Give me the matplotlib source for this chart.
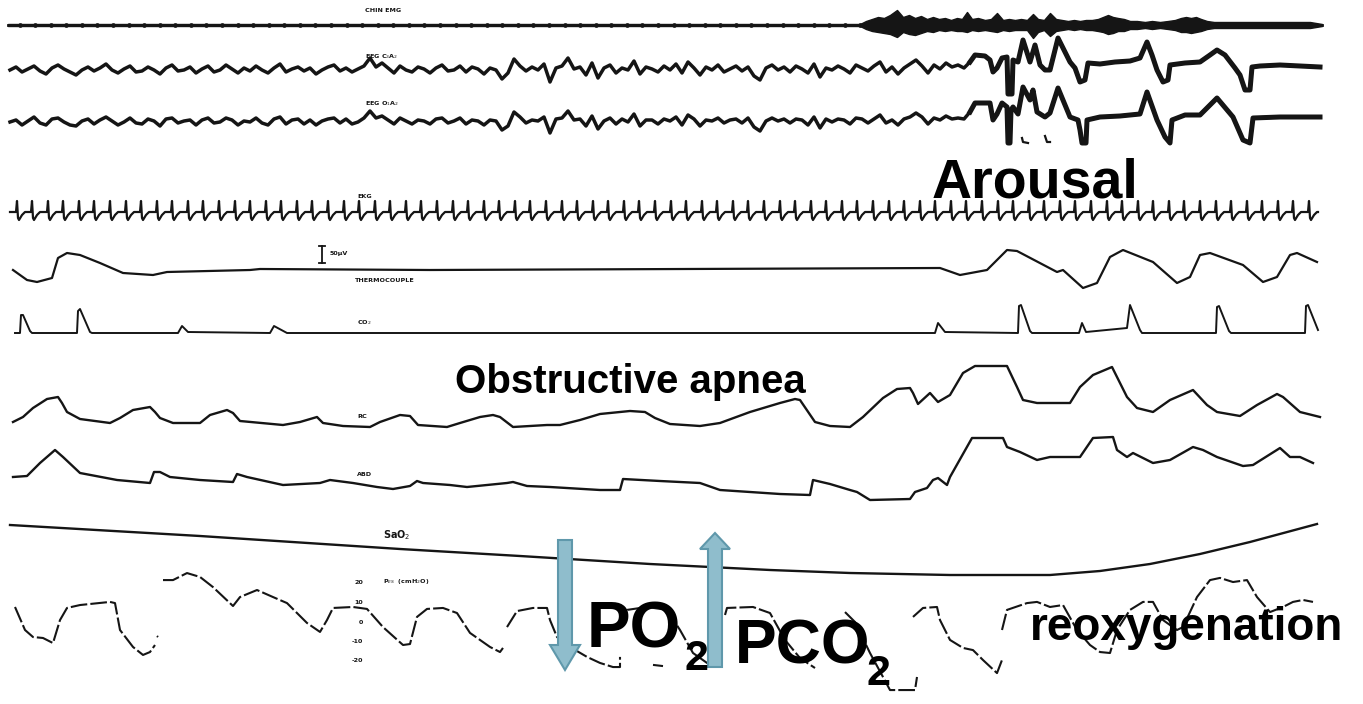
import numpy as np
import matplotlib
matplotlib.use("Agg")
import matplotlib.pyplot as plt
from matplotlib.patches import FancyArrow

# ---------------- data (x = recording time in strip columns, values = deflection, up positive) -------------
emg_x = [8, 12, 860, 866, 872, 878, 884, 890, 897, 903, 909, 915, 921, 927, 933, 939, 945, 951, 957, 962,
         967, 972, 978, 985, 991, 997, 1003, 1009, 1015, 1021, 1027, 1033, 1038, 1044, 1050, 1056, 1062,
         1068, 1074, 1080, 1086, 1092, 1098, 1103, 1108, 1113, 1118, 1124, 1130, 1137, 1145, 1152, 1160,
         1168, 1175, 1181, 1186, 1191, 1196, 1201, 1207, 1214, 1222, 1230, 1240, 1250, 1260, 1270, 1280,
         1290, 1300, 1310, 1316, 1322]
emg_up = [1, 1, 1, 4, 6, 8, 7, 10, 15, 8, 10, 7, 9, 6, 8, 6, 7, 5, 7, 6,
          13, 6, 7, 5, 6, 12, 5, 6, 5, 6, 5, 11, 6, 5, 12, 6, 5,
          4, 5, 4, 5, 5, 6, 8, 10, 8, 7, 6, 4, 4, 3, 4, 3,
          4, 5, 7, 8, 7, 8, 6, 4, 3, 3, 3, 3, 3, 3, 3, 3,
          3, 3, 3, 2, 1]
emg_down = [1, 1, 1, 4, 6, 7, 8, 9, 12, 7, 9, 10, 8, 6, 7, 5, 6, 5, 6, 6,
            7, 5, 6, 5, 6, 7, 5, 6, 5, 5, 5, 13, 7, 5, 11, 6, 5,
            4, 5, 4, 5, 5, 6, 7, 9, 8, 6, 6, 4, 4, 3, 4, 3,
            4, 5, 7, 7, 8, 7, 6, 4, 3, 3, 3, 3, 3, 3, 3, 3,
            3, 3, 3, 2, 1]

eeg_c3_left = [0, 3, -2, 1, 4, -1, -4, 2, 5, 1,
               -2, -5, 0, 3, -1, 2, 6, 0, -3, 1,
               4, -2, -1, 3, 0, -4, 2, 5, -1, 0,
               3, -3, 1, 4, -2, 0, 5, 1, -3, 2,
               -1, 4, 0, -3, 2, 6, -2, 1, 3, -1,
               2, -4, 0, 3, 5, -1, 2, -2, 1, 4,
               12, 3, 7, 2, -3, 4, 0, -2, 3, 1,
               -3, 2, 5, -1, 0, 4, -2, 3, 1, -4,
               2, 0, -9, -3, 11, 4, -1, 3, 0, 6,
               -12, 2, 4, 12, 1, 3, -5, 7, -8, 2,
               5, -3, 2, 0, 9, -4, 3, 1, -2, 4,
               0, 6, -3, 8, 2, -5, 3, 0, 5, -2,
               1, 4, -1, 3, -6, -10, 2, 5, 0, 3,
               -2, 4, 1, -3, 6, -7, 2, 0, 4, 1,
               -3, 5, 2, -1, 4, 8, -2, 3, -4, 2,
               6, 10, 4, -3, 5, 1, 7, 3, 5, 2]
eeg_o1_left = [0, 2, -3, 1, 5, -1, -3, 3, 4, 0,
               -3, -4, 1, 3, -2, 2, 5, 1, -3, 0,
               4, -1, -2, 3, 1, -4, 3, 4, -1, 1,
               2, -3, 2, 4, -1, 0, 4, 2, -3, 1,
               0, 4, -1, -3, 3, 5, -2, 2, 3, -2,
               2, -3, 1, 3, 4, -1, 3, -2, 0, 4,
               11, 4, 6, 2, -2, 4, 1, -2, 2, 1,
               -2, 3, 4, -1, 1, 4, -2, 2, 1, -3,
               2, 1, -8, -4, 10, 5, -1, 2, 1, 5,
               -11, 3, 4, 11, 2, 3, -4, 6, -7, 1,
               4, -2, 3, 0, 8, -4, 2, 2, -2, 3,
               1, 5, -3, 7, 3, -4, 2, 1, 4, -1,
               2, 3, -1, 4, -5, -9, 1, 4, 1, 3,
               -1, 3, 2, -3, 5, -6, 3, 0, 3, 2,
               -2, 4, 3, -1, 3, 7, -1, 2, -3, 3,
               5, 9, 5, -2, 4, 2, 6, 3, 4, 3]
eeg_c3_right_x = [970, 975, 985, 990, 993, 997, 1002, 1007, 1008, 1012, 1013, 1018, 1023, 1030, 1035,
                  1040, 1045, 1050, 1058, 1070, 1075, 1080, 1085, 1088, 1100, 1115, 1130, 1140, 1147,
                  1152, 1157, 1163, 1168, 1170, 1185, 1200, 1210, 1217, 1225, 1235, 1240, 1245, 1250,
                  1252, 1260, 1280, 1300, 1320]
eeg_c3_right = [8, 15, 14, 10, -2, 2, 12, 13, -24, -24, 10, 8, 30, 8, 25,
                5, 0, 0, 32, 8, 2, -12, -10, 7, 6, 8, 9, 12, 28,
                15, 0, -12, -10, 5, 7, 8, 15, 20, 15, 2, -5, -20, -20,
                3, 4, 5, 4, 3]
eeg_o1_right_x = [970, 975, 990, 993, 997, 1002, 1007, 1008, 1010, 1011, 1013, 1018, 1023, 1030, 1033,
                  1037, 1045, 1050, 1058, 1070, 1078, 1080, 1082, 1086, 1087, 1100, 1120, 1140, 1147,
                  1157, 1165, 1170, 1172, 1185, 1200, 1217, 1233, 1243, 1250, 1253, 1280, 1300, 1320]
eeg_o1_right = [10, 19, 19, 2, 8, 19, 15, -21, -21, 12, 15, 8, 35, 22, 32,
                10, 5, 9, 34, 5, 2, -8, -21, -21, 2, 5, 6, 8, 30,
                2, -15, -21, 2, 7, 7, 24, 5, -18, -21, 4, 5, 5, 5]
eeg_o1_frag_x = [1022, 1023, 1028, np.nan, 1045, 1047, 1050]
eeg_o1_frag = [-16, -20, -21, np.nan, -14, -20, -20]

ekg_beats = [17, 32, 48, 63, 79, 94, 110, 126, 141, 157,
             172, 188, 203, 219, 235, 250, 266, 281, 297, 312,
             328, 344, 359, 375, 390, 406, 421, 437, 453, 468,
             484, 499, 515, 530, 546, 562, 577, 593, 608, 624,
             639, 655, 671, 686, 702, 717, 733, 748, 764, 780,
             795, 811, 826, 842, 857, 873, 889, 904, 920, 935,
             951, 966, 982, 998, 1013, 1029, 1044, 1060, 1075, 1091,
             1107, 1122, 1138, 1153, 1169, 1184, 1200, 1216, 1231, 1247,
             1262, 1278, 1293, 1309]
ekg_beat_dx = [-7, -1, 0, 1, 2, 5, 8]
ekg_beat_amp = [0, 0, 11, -6, -8, -3, 0]

thermo_x = [13, 27, 37, 52, 58, 67, 80, 100, 123, 153, 167, 250, 260, 430, 940, 960, 987, 1007, 1017,
            1057, 1063, 1083, 1097, 1110, 1123, 1153, 1177, 1190, 1200, 1210, 1243, 1263, 1277, 1290,
            1297, 1317]
thermo = [0, -10, -12, -8, 12, 17, 15, 7, -3, -5, -2, 0, 1, 0, 2, -5, 0, 20, 19,
          -2, 0, -18, -13, 13, 20, 8, -13, -7, 15, 17, 5, -12, -7, 15,
          17, 8]

co2_x = [15, 20, 21, 23, 30, 32, 77, 78, 80, 90, 92, 178, 182, 188, 270, 274, 287, 935, 938, 945,
         1018, 1019, 1021, 1030, 1032, 1079, 1082, 1086, 1127, 1130, 1140, 1142, 1216, 1217, 1219,
         1229, 1231, 1305, 1306, 1308, 1318]
co2 = [0, 0, 18, 18, 2, 0, 0, 22, 24, 1, 0, 0, 7, 1, 0, 7, 0, 0, 10, 1,
       0, 27, 28, 2, 0, 0, 10, 1, 5, 28, 3, 0, 0, 26, 27,
       2, 0, 0, 27, 28, 3]

rc_x = [13, 23, 33, 47, 58, 62, 67, 80, 110, 120, 133, 150, 155, 160, 173, 200, 210, 227, 233, 240,
        283, 300, 317, 323, 343, 370, 380, 400, 410, 418, 447, 460, 480, 493, 500, 513, 547, 560,
        580, 600, 630, 645, 655, 670, 700, 720, 750, 780, 795, 800, 815, 830, 850, 863, 883, 897,
        910, 913, 918, 930, 938, 950, 963, 975, 1007, 1017, 1023, 1037, 1070, 1080, 1093, 1112,
        1127, 1137, 1153, 1170, 1193, 1207, 1217, 1240, 1257, 1277, 1283, 1300, 1320]
rc = [-2, 3, 12, 21, 23, 17, 8, 1, -3, 2, 10, 13, 8, 2, -3, -3, 5, 10, 7, -1,
      -5, -2, 3, -3, -6, -7, -2, 5, 4, -5, -7, -3, 3, 5, 3, -7, -5, -5,
      0, 6, 9, 8, 2, -4, -6, -3, 8, 17, 21, 20, -2, -6, -7, 3, 22, 31,
      32, 27, 16, 27, 18, 25, 47, 54, 54, 33, 20, 17, 17, 33, 45, 53,
      23, 12, 8, 20, 30, 15, 8, 4, 15, 26, 23, 8, 3]

abd_x = [13, 27, 40, 55, 63, 80, 117, 150, 154, 160, 170, 200, 233, 237, 247, 283, 320, 330, 353,
         377, 393, 410, 417, 423, 450, 467, 507, 513, 527, 550, 600, 620, 623, 660, 700, 720, 780,
         810, 813, 830, 850, 857, 870, 910, 915, 927, 933, 938, 947, 950, 972, 1003, 1007, 1020,
         1037, 1050, 1080, 1093, 1113, 1117, 1127, 1133, 1153, 1170, 1193, 1203, 1217, 1243, 1253,
         1280, 1290, 1300, 1313]
abd = [6, 7, 20, 33, 26, 10, 3, 0, 11, 11, 6, 3, 1, 9, 6, -2, 0, 3, 0,
       -4, -6, -3, 2, 0, -2, -4, 0, 1, -3, -4, -7, -7, 4, 2, 0, -7, -11,
       -12, 3, -1, -7, -9, -17, -16, -9, -5, 3, 5, -2, 6, 45, 45, 36, 31,
       23, 26, 26, 45, 46, 33, 26, 30, 20, 23, 36, 33, 26, 17, 18,
       35, 26, 26, 20]

sao2_x = [10, 200, 400, 520, 650, 770, 850, 950, 1050, 1100, 1150, 1200, 1250, 1317]
sao2 = [25, 14, 1, -6, -14, -20, -23, -25, -25, -21, -14, -4, 8, 26]

# oesophageal pressure, cmH2O (NaN = gap in the trace)
pes_x = [15, 25, 33, 43, 53, 60, 67, 80, 110, 115, 120, 133, 143, 150, 155, np.nan, 157, 158, np.nan,
         163, 173, 187, 200, 213, 233, 240, 257, 273, 287, 307, 320, 327, 333, 353, 367, 383, 403, 410,
         417, 427, 443, 457, 470, 490, 500, 503, np.nan,
         507, 517, 533, 547, 550, 557, 570, 587, 600, 613, 620, 620, np.nan,
         617, 627, 647, 667, 680, 693, 707, 713, np.nan, 653, 663, np.nan,
         725, 727, 753, 770, 785, 800, 815, np.nan,
         845, 855, 870, 883, 890, 915, 917, np.nan,
         913, 923, 937, 940, 950, 963, 973, 983, 997, 1002, np.nan,
         1002, 1007, 1027, 1037, 1050, 1063, 1077, 1090, 1100, 1110, 1117, 1130, 1143, 1153, 1163,
         1177, 1183, 1197, 1210, 1220, 1233, 1247, 1257, 1270, 1283, 1293, 1303, 1313]
pes = [7.7, -4.1, -7.7, -8.2, -10.8, 1.0, 7.2, 8.7, 10.3, 9.7, -4.1, -12.8, -16.9, -15.4, -11.8, np.nan, -7.2, -7.7, np.nan,
       21.5, 21.5, 25.1, 23.1, 17.9, 8.2, 12.8, 16.4, 12.8, 9.7, -0.5, -5.1, 1.0, 7.2, 7.7, 6.7, -2.6, -11.8, -11.3,
       2.6, 6.7, 7.2, 4.6, -5.6, -12.8, -15.4, -13.3, np.nan,
       -2.6, 5.6, 7.2, 7.2, 1.0, -7.7, -12.8, -17.9, -21.0, -23.1, -23.1, -17.9, np.nan,
       -2.6, 6.2, 7.7, 6.2, -4.1, -15.9, -21.0, -23.1, np.nan, -22.0, -22.6, np.nan,
       3.6, 7.2, 7.7, 4.6, -9.2, -18.5, -23.6, np.nan,
       5.1, 0.0, -15.9, -28.2, -34.9, -34.9, -28.2, np.nan,
       2.6, 7.2, 7.7, 1.0, -9.2, -13.3, -14.4, -19.5, -26.2, -19.5, np.nan,
       -4.1, 6.2, 9.7, 10.3, 7.7, 8.7, -4.1, -11.8, -15.4, -15.9, -4.1, 6.2, 10.3, 10.3, 1.0,
       -4.1, -2.6, 12.8, 21.5, 22.6, 20.5, 21.5, 12.8, 5.1, 7.7, 10.3, 11.3, 10.3]
pes_ticks = [20, 10, 0, -10, -20]
pes_tick_labels = ["20", "10", "0", "-10", "-20"]

channel_labels = ["CHIN EMG", "EEG C$_3$A$_2$", "EEG O$_1$A$_2$", "EKG", "THERMOCOUPLE", "CO$_2$",
                  "RC", "ABD", "SaO$_2$", "P$_{ES}$  (cmH$_2$O)"]

# ---------------- layout ----------------
W, H = 1363, 704
fig = plt.figure(figsize=(W / 100, H / 100), dpi=100)
ax = fig.add_axes([0, 0, 1, 1])
ax.set_xlim(0, W)
ax.set_ylim(H, 0)
ax.axis("off")
ink = "#151515"

base = dict(emg=25, c3=70, o1=122, ekg=212, thermo=270, co2=333, rc=420, abd=483, sao2=550)
pes_zero, pes_scale = 622, 1.95


def tr(vals, b):
    return b - np.asarray(vals, dtype=float)


# EMG
ex = np.asarray(emg_x, float)
ax.fill_between(ex, tr(emg_up, base["emg"]), tr(-np.asarray(emg_down), base["emg"]), color=ink, lw=1.0)
ax.plot(ex, np.full_like(ex, base["emg"]), color=ink, lw=2.0)
bx = np.asarray([b for b in ekg_beats if b < 860], float) + 3
ax.plot(bx, np.full_like(bx, base["emg"]), "o", color=ink, ms=3.4, mew=0)

# EEG channels
eeg_left_x = np.linspace(10, 964, len(eeg_c3_left))
ax.plot(np.r_[eeg_left_x, eeg_c3_right_x], tr(np.r_[eeg_c3_left, eeg_c3_right], base["c3"]),
        color=ink, lw=2.5, solid_joinstyle="round")
ax.plot(eeg_c3_right_x, tr(eeg_c3_right, base["c3"]), color=ink, lw=3.6, solid_joinstyle="round")
ax.plot(np.r_[eeg_left_x, eeg_o1_right_x], tr(np.r_[eeg_o1_left, eeg_o1_right], base["o1"]),
        color=ink, lw=2.5, solid_joinstyle="round")
ax.plot(eeg_o1_right_x, tr(eeg_o1_right, base["o1"]), color=ink, lw=3.6, solid_joinstyle="round")
ax.plot(eeg_o1_frag_x, tr(eeg_o1_frag, base["o1"]), color=ink, lw=1.6)

# EKG
kx, ky = [10], [base["ekg"]]
for b in ekg_beats:
    kx += [b + d for d in ekg_beat_dx]
    ky += list(tr(ekg_beat_amp, base["ekg"]))
kx.append(1318); ky.append(base["ekg"])
ax.plot(kx, ky, color=ink, lw=1.6)

# respiratory channels
ax.plot(thermo_x, tr(thermo, base["thermo"]), color=ink, lw=1.6)
ax.plot(co2_x, tr(co2, base["co2"]), color=ink, lw=1.4)
ax.plot(rc_x, tr(rc, base["rc"]), color=ink, lw=1.7)
ax.plot(abd_x, tr(abd, base["abd"]), color=ink, lw=1.7)
ax.plot(sao2_x, tr(sao2, base["sao2"]), color=ink, lw=1.7)
ax.plot(pes_x, pes_zero - np.asarray(pes, float) * pes_scale, color=ink, lw=1.5,
        linestyle=(0, (8, 1.5)))

# calibration bar
ax.plot([322, 322], [246, 263], color=ink, lw=1.3)
ax.plot([319, 325], [246, 246], color=ink, lw=1.3)
ax.plot([319, 325], [263, 263], color=ink, lw=1.3)

# small channel labels
lab = dict(fontsize=4.6, fontweight="bold", color=ink, family="DejaVu Sans", va="center")
label_pos = [(365, 10), (365, 57), (365, 104), (357, 196), (355, 281), (357, 323),
             (357, 417), (357, 474), (383, 535), (383, 582)]
for (x, y), t in zip(label_pos, channel_labels):
    kw = dict(lab)
    if t.startswith("SaO"):
        kw["fontsize"] = 7
    ax.text(x, y, t, **kw)
ax.text(330, 254, "50\u03bcV", **lab)
for v, t in zip(pes_ticks, pes_tick_labels):
    ax.text(363, pes_zero - v * pes_scale, t, ha="right", **lab)

# arrows
afc, aec = "#8fbdcc", "#5f98ab"
ax.add_patch(FancyArrow(565, 540, 0, 130, width=14, head_width=30, head_length=25,
                        length_includes_head=True, fc=afc, ec=aec, lw=1.5, zorder=5))
ax.add_patch(FancyArrow(715, 667, 0, -134, width=14, head_width=30, head_length=16,
                        length_includes_head=True, fc=afc, ec=aec, lw=1.5, zorder=5))

# annotations
big = dict(family="Liberation Sans", fontweight="bold", color="black", zorder=6)
ax.text(932, 197, "Arousal", fontsize=40, va="baseline", **big)
ax.text(455, 393, "Obstructive apnea", fontsize=29, va="baseline", **big)
ax.text(587, 648, "PO", fontsize=47, va="baseline", **big)
ax.text(684, 670, "2", fontsize=31, va="baseline", **big)
ax.text(735, 664, "PCO", fontsize=45, va="baseline", **big)
ax.text(867, 685, "2", fontsize=31, va="baseline", **big)
ax.text(1030, 640, "reoxygenation", fontsize=33, va="baseline", **big)

fig.savefig("out.png", dpi=100, facecolor="white")
